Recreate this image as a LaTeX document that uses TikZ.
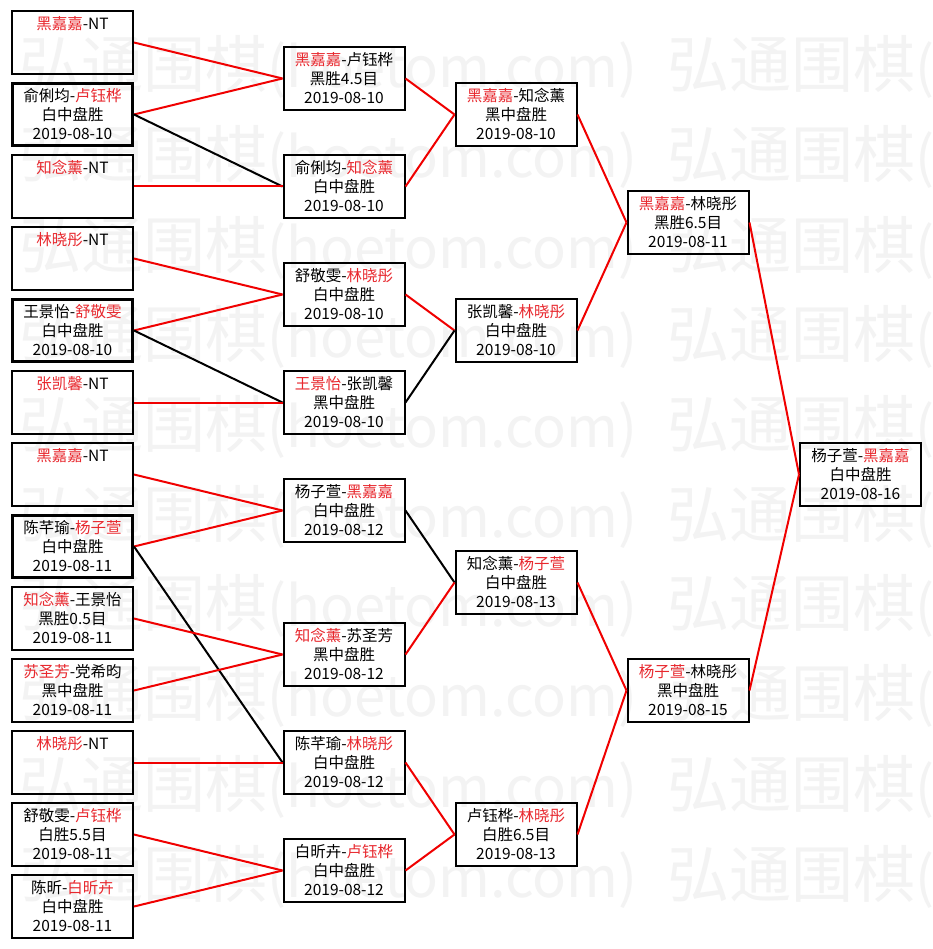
\documentclass[tikz,border=0pt]{standalone}
\usepackage{fontspec}
\setmainfont{Noto Sans CJK SC}
\usepackage{xcolor}
\usepackage{tikz}
\definecolor{winred}{HTML}{E8282E}
\definecolor{linkred}{HTML}{F00000}
\definecolor{markgray}{HTML}{F3F3F3}
\newcommand{\win}[1]{\textcolor{winred}{#1}}
\newcommand{\rowstrut}{\rule[-2.6pt]{0pt}{16.6pt}}
\newcommand{\game}[3]{\rowstrut#1\\\rowstrut#2\\\rowstrut#3}
\newcommand{\site}{弘通围棋{\fontsize{56pt}{56pt}\selectfont(hoetom.com)}}

\begin{document}
\begin{tikzpicture}[x=1pt, y=-1pt,
  game/.style={draw=black, line width=2pt, minimum width=121pt,
               minimum height=63pt, inner sep=0pt, align=center,
               font=\fontsize{15.5pt}{19pt}\selectfont},
  seed/.style={game, line width=3pt, minimum width=120pt, minimum height=62pt},
  won/.style={draw=linkred, line width=2pt},
  lost/.style={draw=black, line width=2pt},
  wmark/.style={anchor=west, inner sep=0pt, text=markgray,
                font=\fontsize{62pt}{62pt}\selectfont}
]
  \useasboundingbox[fill=white] (0,0) rectangle (932,949);

  % watermark
  \node[wmark] (wm1)  at (19,67)  {\makebox[648pt][l]{\site}\site};
  \node[wmark] (wm2)  at (19,157) {\makebox[648pt][l]{\site}\site};
  \node[wmark] (wm3)  at (19,248) {\makebox[648pt][l]{\site}\site};
  \node[wmark] (wm4)  at (19,337) {\makebox[648pt][l]{\site}\site};
  \node[wmark] (wm5)  at (19,427) {\makebox[648pt][l]{\site}\site};
  \node[wmark] (wm6)  at (19,517) {\makebox[648pt][l]{\site}\site};
  \node[wmark] (wm7)  at (19,606) {\makebox[648pt][l]{\site}\site};
  \node[wmark] (wm8)  at (19,696) {\makebox[648pt][l]{\site}\site};
  \node[wmark] (wm9)  at (19,787) {\makebox[648pt][l]{\site}\site};
  \node[wmark] (wm10) at (19,877) {\makebox[648pt][l]{\site}\site};

  % round 1
  \node[game] (a1)  at (72.5,42.5)  {\game{\win{黑嘉嘉}-NT}{}{}};
  \node[seed] (a2)  at (72.5,114.5) {\game{俞俐均-\win{卢钰桦}}{白中盘胜}{2019-08-10}};
  \node[game] (a3)  at (72.5,186.5) {\game{\win{知念薰}-NT}{}{}};
  \node[game] (a4)  at (72.5,258.5) {\game{\win{林晓彤}-NT}{}{}};
  \node[seed] (a5)  at (72.5,330.5) {\game{王景怡-\win{舒敬雯}}{白中盘胜}{2019-08-10}};
  \node[game] (a6)  at (72.5,402.5) {\game{\win{张凯馨}-NT}{}{}};
  \node[game] (a7)  at (72.5,474.5) {\game{\win{黑嘉嘉}-NT}{}{}};
  \node[seed] (a8)  at (72.5,546.5) {\game{陈芊瑜-\win{杨子萱}}{白中盘胜}{2019-08-11}};
  \node[game] (a9)  at (72.5,618.5) {\game{\win{知念薰}-王景怡}{黑胜0.5目}{2019-08-11}};
  \node[game] (a10) at (72.5,690.5) {\game{\win{苏圣芳}-党希昀}{黑中盘胜}{2019-08-11}};
  \node[game] (a11) at (72.5,762.5) {\game{\win{林晓彤}-NT}{}{}};
  \node[game] (a12) at (72.5,834.5) {\game{舒敬雯-\win{卢钰桦}}{白胜5.5目}{2019-08-11}};
  \node[game] (a13) at (72.5,906.5) {\game{陈昕-\win{白昕卉}}{白中盘胜}{2019-08-11}};

  % round 2
  \node[game] (b1) at (344,78.5)  {\game{\win{黑嘉嘉}-卢钰桦}{黑胜4.5目}{2019-08-10}};
  \node[game] (b2) at (344,186.5) {\game{俞俐均-\win{知念薰}}{白中盘胜}{2019-08-10}};
  \node[game] (b3) at (344,294.5) {\game{舒敬雯-\win{林晓彤}}{白中盘胜}{2019-08-10}};
  \node[game] (b4) at (344,402.5) {\game{\win{王景怡}-张凯馨}{黑中盘胜}{2019-08-10}};
  \node[game] (b5) at (344,510.5) {\game{杨子萱-\win{黑嘉嘉}}{白中盘胜}{2019-08-12}};
  \node[game] (b6) at (344,654.5) {\game{\win{知念薰}-苏圣芳}{黑中盘胜}{2019-08-12}};
  \node[game] (b7) at (344,762.5) {\game{陈芊瑜-\win{林晓彤}}{白中盘胜}{2019-08-12}};
  \node[game] (b8) at (344,870.5) {\game{白昕卉-\win{卢钰桦}}{白中盘胜}{2019-08-12}};

  % round 3
  \node[game] (c1) at (516,114.5) {\game{\win{黑嘉嘉}-知念薰}{黑中盘胜}{2019-08-10}};
  \node[game] (c2) at (516,330.5) {\game{张凯馨-\win{林晓彤}}{白中盘胜}{2019-08-10}};
  \node[game] (c3) at (516,582.5) {\game{知念薰-\win{杨子萱}}{白中盘胜}{2019-08-13}};
  \node[game] (c4) at (516,834.5) {\game{卢钰桦-\win{林晓彤}}{白胜6.5目}{2019-08-13}};

  % semi-finals and final
  \node[game] (d1)  at (688,222.5)  {\game{\win{黑嘉嘉}-林晓彤}{黑胜6.5目}{2019-08-11}};
  \node[game] (d2)  at (688,690.5)  {\game{\win{杨子萱}-林晓彤}{黑中盘胜}{2019-08-15}};
  \node[game] (fin) at (860.5,474.5) {\game{杨子萱-\win{黑嘉嘉}}{白中盘胜}{2019-08-16}};

  \draw[won]  (a1.east)  -- (b1.west);
  \draw[won]  (a2.east)  -- (b1.west);
  \draw[lost] (a2.east)  -- (b2.west);
  \draw[won]  (a3.east)  -- (b2.west);
  \draw[won]  (a4.east)  -- (b3.west);
  \draw[won]  (a5.east)  -- (b3.west);
  \draw[lost] (a5.east)  -- (b4.west);
  \draw[won]  (a6.east)  -- (b4.west);
  \draw[won]  (a7.east)  -- (b5.west);
  \draw[won]  (a8.east)  -- (b5.west);
  \draw[lost] (a8.east)  -- (b7.west);
  \draw[won]  (a9.east)  -- (b6.west);
  \draw[won]  (a10.east) -- (b6.west);
  \draw[won]  (a11.east) -- (b7.west);
  \draw[won]  (a12.east) -- (b8.west);
  \draw[won]  (a13.east) -- (b8.west);

  \draw[won]  (b1.east) -- (c1.west);
  \draw[won]  (b2.east) -- (c1.west);
  \draw[won]  (b3.east) -- (c2.west);
  \draw[lost] (b4.east) -- (c2.west);
  \draw[lost] (b5.east) -- (c3.west);
  \draw[won]  (b6.east) -- (c3.west);
  \draw[won]  (b7.east) -- (c4.west);
  \draw[won]  (b8.east) -- (c4.west);

  \draw[won] (c1.east) -- (d1.west);
  \draw[won] (c2.east) -- (d1.west);
  \draw[won] (c3.east) -- (d2.west);
  \draw[won] (c4.east) -- (d2.west);

  \draw[won] (d1.east) -- (fin.west);
  \draw[won] (d2.east) -- (fin.west);
\end{tikzpicture}
\end{document}
